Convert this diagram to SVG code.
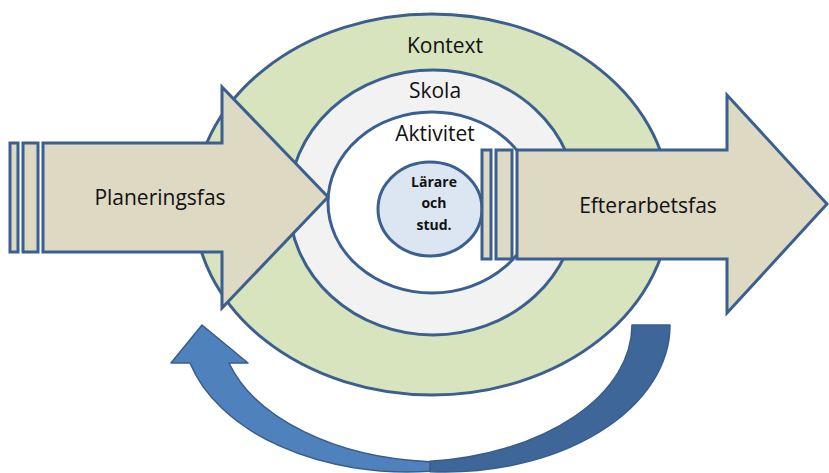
<svg xmlns="http://www.w3.org/2000/svg" width="829" height="473" viewBox="0 0 829 473">
<style>
.ring{stroke:#3B5F8E;stroke-width:3}
.arr{fill:#DDD9C3;stroke:#3B5F8E;stroke-width:3;stroke-linejoin:miter}
.lbl{font-family:"Open Sans","Liberation Sans",sans-serif;font-size:21px;fill:#111;text-anchor:middle}
.small{font-family:"Open Sans","Liberation Sans",sans-serif;font-size:14px;font-weight:bold;fill:#111;text-anchor:middle}
.cyc{stroke:#385D8A;stroke-width:1.5;stroke-linejoin:round}
</style>
<rect width="829" height="473" fill="#fff"/>
<g id="kontext">
<ellipse class="ring" cx="432" cy="204.5" rx="238" ry="190.5" fill="#D7E4BD"/>
<text class="lbl" x="445" y="53">Kontext</text>
</g>
<g id="skola">
<ellipse class="ring" cx="433" cy="202.5" rx="144" ry="132.5" fill="#F2F2F2"/>
<text class="lbl" x="435" y="98">Skola</text>
</g>
<g id="aktivitet">
<ellipse class="ring" cx="432" cy="202.5" rx="104" ry="90.5" fill="#FFFFFF"/>
<text class="lbl" x="435" y="141">Aktivitet</text>
</g>
<g id="larare">
<ellipse class="ring" cx="430" cy="209" rx="52" ry="47" fill="#DCE6F2"/>
<text class="small" x="434" y="187">Lärare</text>
<text class="small" x="434" y="208">och</text>
<text class="small" x="434" y="230">stud.</text>
</g>
<g id="planeringsfas">
<rect class="arr" x="10" y="143" width="8" height="109"/>
<rect class="arr" x="23" y="143" width="15" height="109"/>
<path class="arr" d="M43,143 L222,143 L222,87 L328,197 L222,308 L222,252 L43,252 Z"/>
<text class="lbl" x="160" y="205">Planeringsfas</text>
</g>
<g id="efterarbetsfas">
<rect class="arr" x="482" y="150" width="9" height="109"/>
<rect class="arr" x="496" y="150" width="16" height="109"/>
<path class="arr" d="M517,150 L727,150 L727,95 L827,204 L727,313 L727,259 L517,259 Z"/>
<text class="lbl" x="648" y="213">Efterarbetsfas</text>
</g>
<g id="connectors">
<path class="cyc" fill="#3F6699" d="M632,325 L670,325 A225 147 0 0 1 430 471.7 L430 461.3 A225 137 0 0 0 632 325 Z"/>
<path class="cyc" fill="#4F81BD" d="M171,363 L202,325 L248,363 L229,363 A225 137 0 0 0 430 461.7 L430 471.2 A225 147 0 0 1 190 363 Z"/>
</g>
</svg>
